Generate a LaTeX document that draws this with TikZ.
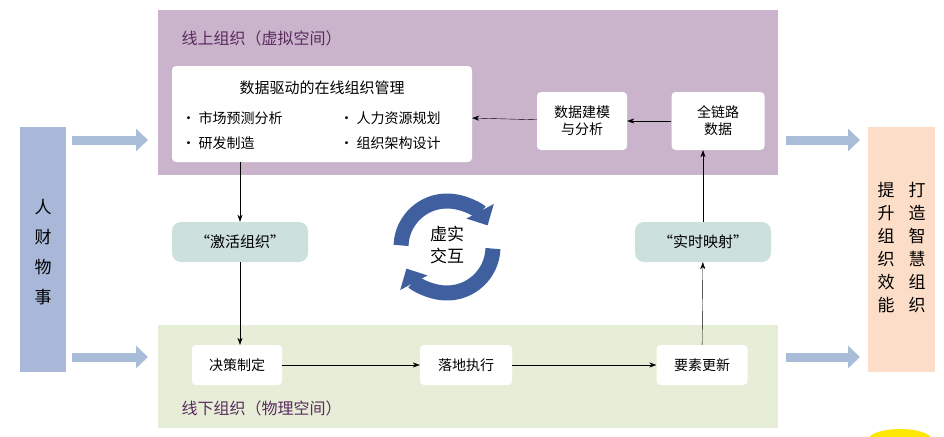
\documentclass[tikz,border=0pt]{standalone}
\usepackage{fontspec}
\setmainfont{Noto Sans CJK SC}
\usetikzlibrary{arrows.meta,positioning}
\definecolor{onlinebg}{HTML}{C9B4CC}
\definecolor{offlinebg}{HTML}{E7EED8}
\definecolor{pillbg}{HTML}{CCE0DE}
\definecolor{sidebg}{HTML}{A9B8D8}
\definecolor{goalbg}{HTML}{FBDDC8}
\definecolor{flowblue}{HTML}{A9BCD8}
\definecolor{titlepurple}{HTML}{5A2A5E}
\definecolor{darkblue}{HTML}{3F5F9F}
\definecolor{lightblue}{HTML}{7D9AC8}
\tikzset{
  box/.style={fill=white, rounded corners=4pt, align=center, font=\fontsize{14}{17}\selectfont, inner sep=0pt},
  pill/.style={fill=pillbg, rounded corners=9pt, minimum width=136pt, minimum height=40pt, font=\fontsize{15}{18}\selectfont},
  link/.style={-{Stealth[length=7pt,width=5pt]}, thin},
  flow/.style={line width=9pt, flowblue, -{Triangle[length=12pt,width=22pt]}},
  turn/.style={line width=15pt, -{Triangle[length=16pt,width=30pt]}}
}
\begin{document}
\begin{tikzpicture}[x=1pt, y=-1pt]
    \useasboundingbox (0,0) rectangle (944,436);

    % Backgrounds
    \fill[onlinebg] (158,10) rectangle (778,175);
    \fill[offlinebg] (158,325) rectangle (778,428);
    \node[anchor=west, text=titlepurple, font=\fontsize{16}{19}\selectfont] (ontitle) at (178,38) {线上组织（虚拟空间）};
    \node[anchor=west, text=titlepurple, font=\fontsize{16}{19}\selectfont] (offtitle) at (178,408) {线下组织（物理空间）};

    % Sides
    \fill[sidebg] (20,127) rectangle (66,372);
    \node[font=\fontsize{17}{30}\selectfont, align=center] (res) at (43,252) {人\\财\\物\\事};
    \fill[goalbg] (868,127) rectangle (935,372);
    \node[font=\fontsize{17}{23}\selectfont, align=center] (goalA) at (917,248) {打\\造\\智\\慧\\组\\织};
    \node[font=\fontsize{17}{23}\selectfont, align=center] (goalB) at (886,248) {提\\升\\组\\织\\效\\能};
    \fill[yellow!90!orange] (900,440) ellipse (32pt and 11pt);

    % Block arrows
    \draw[flow] (72,140) -- (148,140);
    \draw[flow] (72,357) -- (148,357);
    \draw[flow] (786,140) -- (860,140);
    \draw[flow] (786,357) -- (860,357);

    % Online boxes
    \node[box, minimum width=300pt, minimum height=96pt] (mgmt) at (322,114) {};
    \node[font=\fontsize{15}{18}\selectfont] (mgmttitle) at (322,88) {数据驱动的在线组织管理};
    \node[anchor=west, font=\fontsize{14}{17}\selectfont] (b1) at (178,118) {• 市场预测分析};
    \node[anchor=west, font=\fontsize{14}{17}\selectfont] (b2) at (178,143) {• 研发制造};
    \node[anchor=west, font=\fontsize{14}{17}\selectfont] (b3) at (336,118) {• 人力资源规划};
    \node[anchor=west, font=\fontsize{14}{17}\selectfont] (b4) at (336,143) {• 组织架构设计};
    \node[box, minimum width=90pt, minimum height=58pt] (model) at (582,121) {数据建模\\与分析};
    \node[box, minimum width=93pt, minimum height=58pt] (fulldata) at (718,121) {全链路\\数据};

    % Pills
    \node[pill] (activate) at (240,242) {“激活组织”};
    \node[pill] (mapping) at (703,242) {“实时映射”};

    % Offline boxes
    \node[box, minimum width=90pt, minimum height=40pt] (decide) at (237,365) {决策制定};
    \node[box, minimum width=92pt, minimum height=40pt] (execute) at (466,365) {落地执行};
    \node[box, minimum width=91pt, minimum height=40pt] (update) at (702,365) {要素更新};

    % Connectors
    \draw[link] (fulldata) -- (model);
    \draw[link] (model) -- (mgmt);
    \draw[link] (mgmt.south -| activate) -- (activate);
    \draw[link] (activate) -- (decide.north -| activate);
    \draw[link] (decide) -- (execute);
    \draw[link] (execute) -- (update);
    \draw[link] (update) -- (mapping);
    \draw[link] (mapping) -- (fulldata.south -| mapping);

    % Virtual-real interaction
    \draw[turn, darkblue] (447,247) ++(-178:46) arc[start angle=-178, end angle=-28, radius=46];
    \draw[turn, darkblue] (447,247) ++(2:46) arc[start angle=2, end angle=152, radius=46];
    \node[font=\fontsize{17}{22}\selectfont, align=center] (vr) at (447,245) {虚实\\交互};
\end{tikzpicture}
\end{document}
